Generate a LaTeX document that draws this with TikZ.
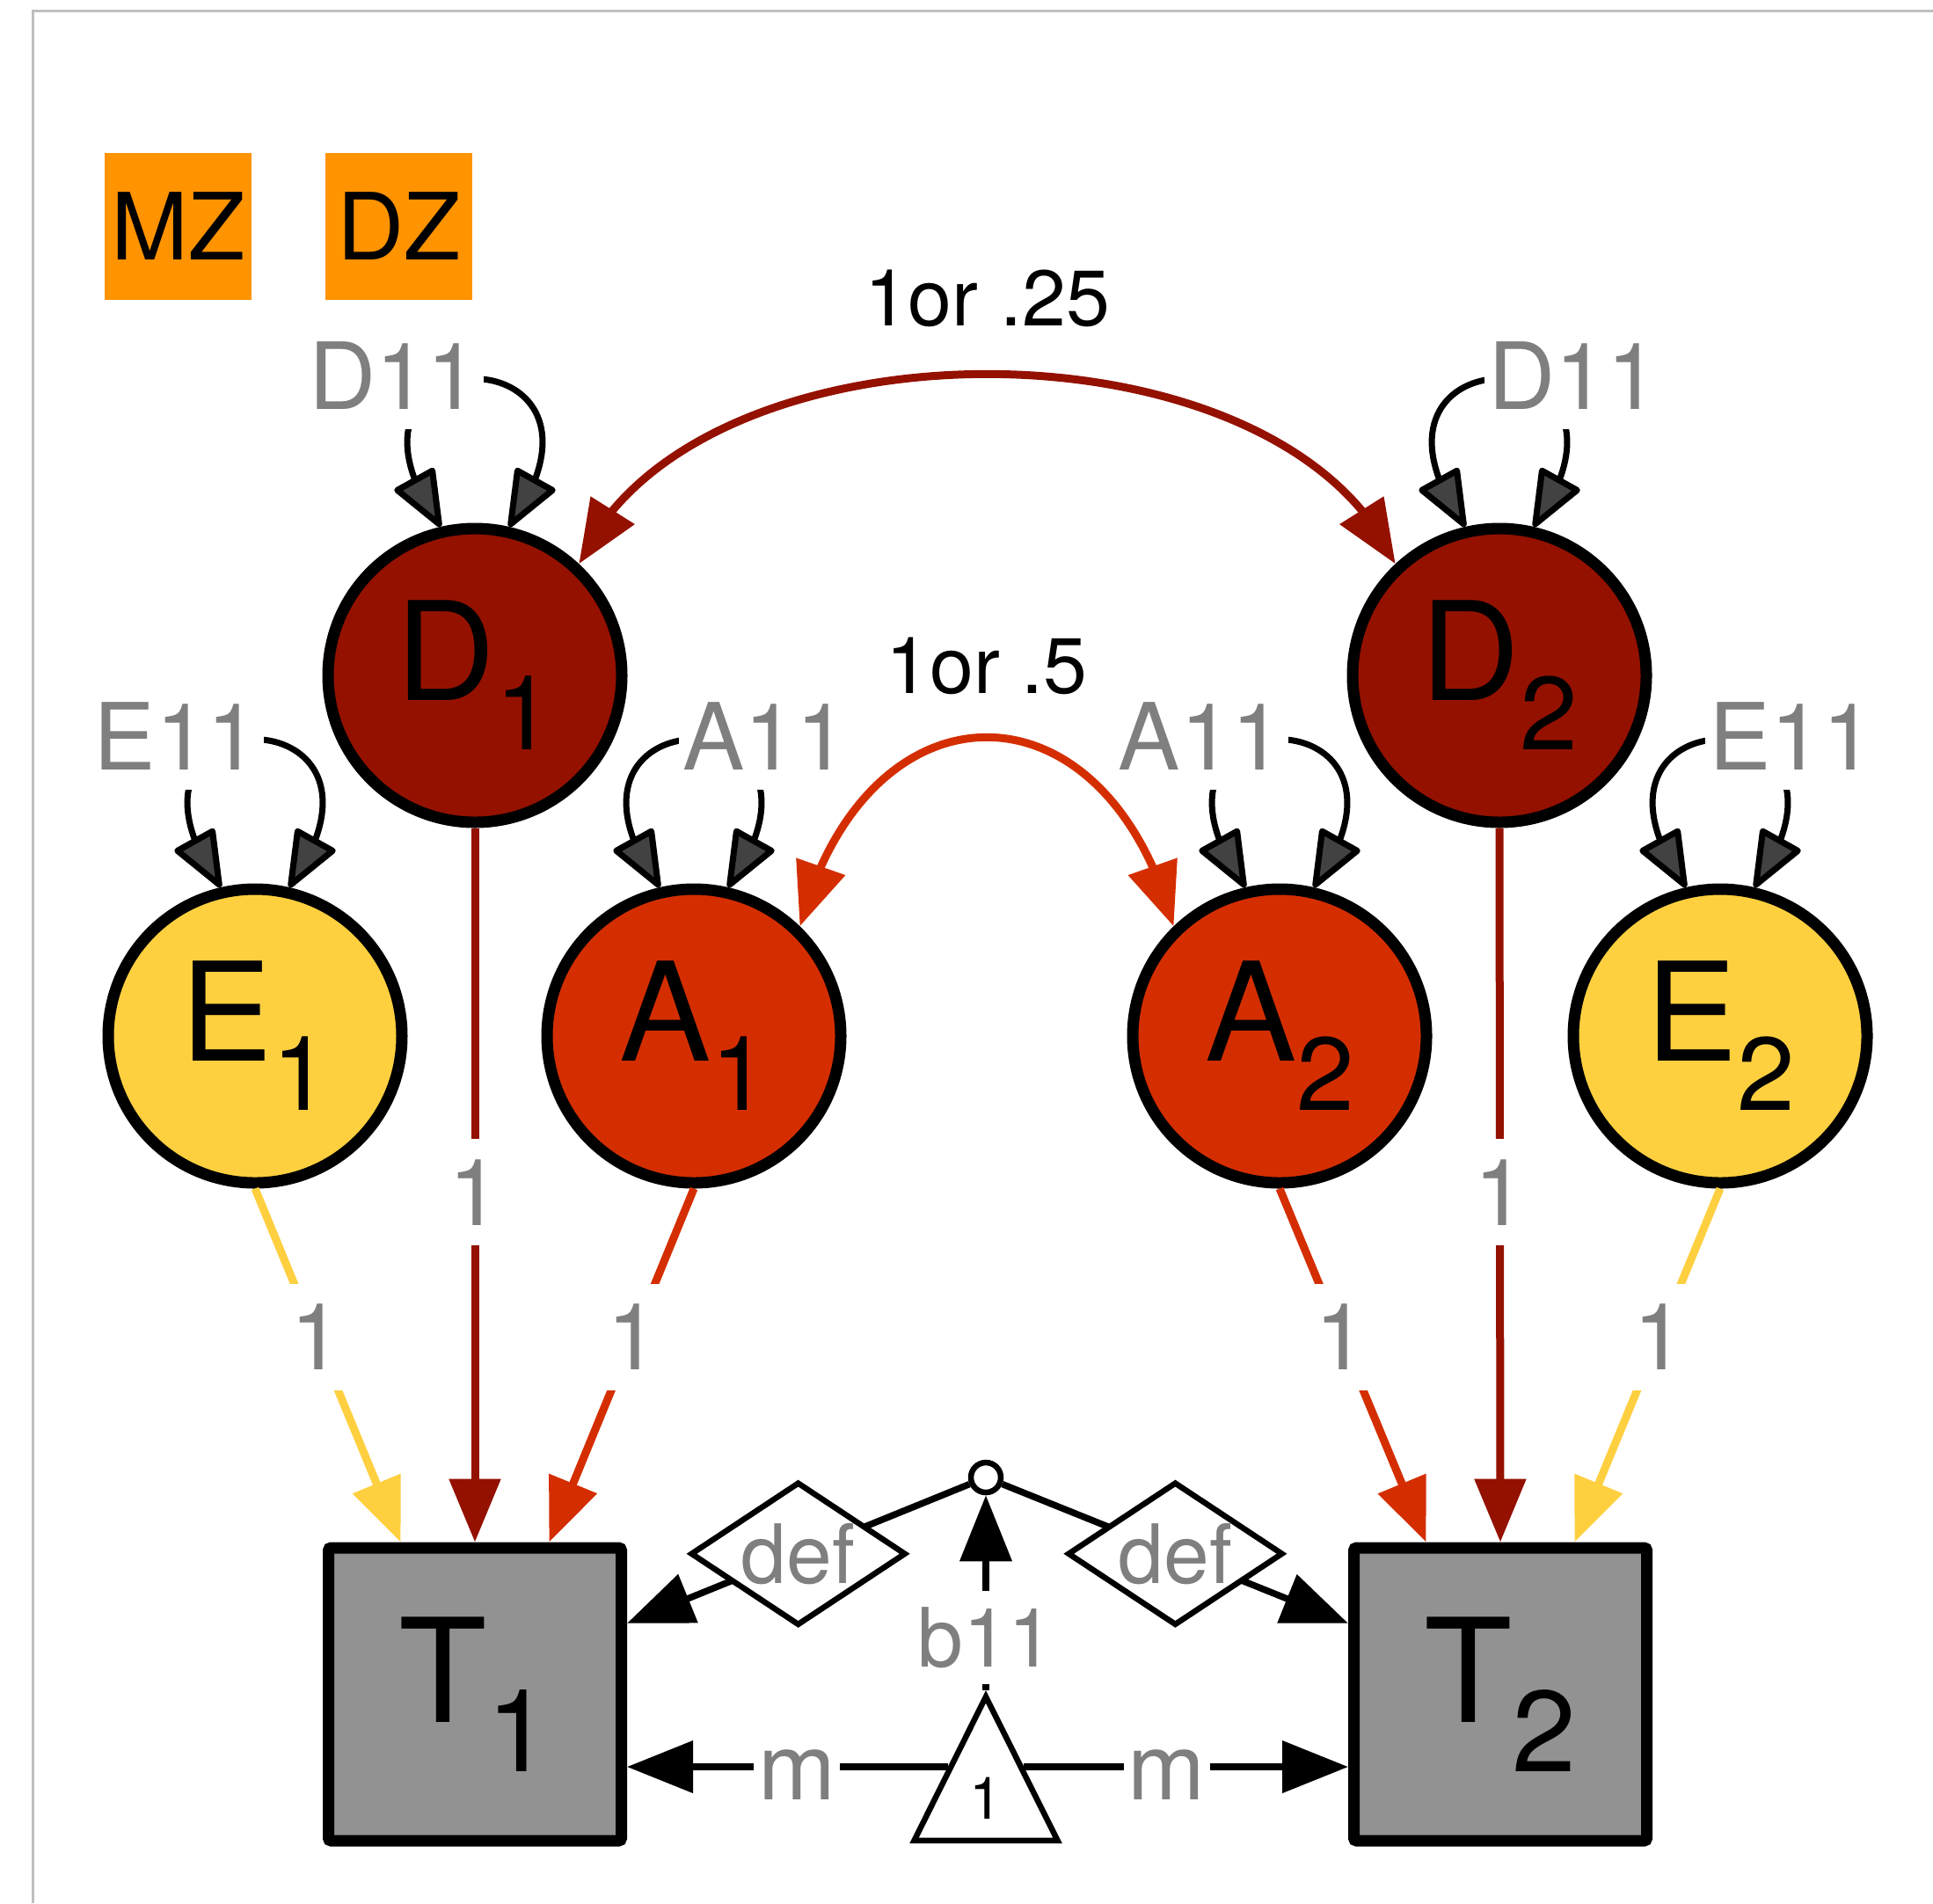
\documentclass[tikz,border=0pt]{standalone}
\usepackage{fontspec}
\setmainfont{TeX Gyre Heros}
\usetikzlibrary{positioning,arrows.meta,bending,shapes.geometric}

\definecolor{dcol}{HTML}{941100}
\definecolor{acol}{HTML}{D42E00}
\definecolor{ecol}{HTML}{FED040}
\definecolor{tcol}{HTML}{929292}
\definecolor{grpcol}{HTML}{FF9300}
\definecolor{labgray}{HTML}{7F7F7F}
\definecolor{tungsten}{HTML}{424242}
\definecolor{framegray}{HTML}{BFBFBF}

\newcommand{\latfont}{\fontsize{44.4}{44.4}\selectfont}
\newcommand{\manfont}{\fontsize{46.7}{46.7}\selectfont}
\newcommand{\labfont}{\fontsize{30}{30}\selectfont}
\newcommand{\deffont}{\fontsize{26.5}{26.5}\selectfont}
\newcommand{\covfont}{\fontsize{25.5}{25.5}\selectfont}
\newcommand{\onefont}{\fontsize{19}{19}\selectfont}
\newcommand{\latlab}[2]{#1\raisebox{-0.56cm}{\fontsize{33.6}{33.6}\selectfont #2}}
\newcommand{\manlab}[2]{#1\raisebox{-0.56cm}{\fontsize{37.3}{37.3}\selectfont #2}}

\tikzset{
  latent/.style={circle,draw,line width=0.13cm,minimum size=3.34cm,inner sep=0pt,font=\latfont},
  manifest/.style={rectangle,draw,fill=tcol,line width=0.13cm,minimum size=3.33cm,inner sep=0pt,rounded corners=0.03cm,font=\manfont},
  grpbox/.style={fill=grpcol,minimum size=1.67cm,inner sep=0pt,font=\labfont},
  parlab/.style={font=\labfont,text=labgray,fill=white,inner xsep=0.05cm,inner ysep=0pt,text height=0.98cm,text depth=0.23cm},
  lableft/.style={parlab,anchor=east,xshift=0.13cm,yshift=0.03cm},
  labright/.style={parlab,anchor=west,xshift=-0.21cm,yshift=0.03cm},
  smlab/.style={font=\deffont,text=labgray,inner xsep=0.05cm,inner ysep=0pt,text height=0.865cm,text depth=0.2cm},
  covlab/.style={font=\covfont,text=black,inner sep=0pt,text height=0.83cm,text depth=0.2cm},
  defbox/.style={diamond,draw,fill=white,line width=0.065cm,aspect=1.5,minimum width=2.45cm,minimum height=1.63cm,
    font=\deffont,text=labgray,inner sep=0pt,text height=0.67cm,text depth=0pt},
  defdot/.style={circle,draw,fill=white,line width=0.065cm,minimum size=0.34cm,inner sep=0pt},
  meanbox/.style={isosceles triangle,isosceles triangle apex angle=53,shape border rotate=90,draw,fill=white,line width=0.065cm,minimum width=1.63cm,minimum height=1.63cm,inner sep=0pt,font=\onefont},
  loading/.style={line width=0.09cm,-{Triangle[length=0.72cm,width=0.57cm]}},
  covarc/.style={line width=0.09cm,{Triangle[length=0.72cm,width=0.57cm]}-{Triangle[length=0.72cm,width=0.57cm]}},
  varloop/.style={line width=0.07cm,{Triangle[length=0.7cm,width=0.54cm,fill=tungsten,round]}-{Triangle[length=0.7cm,width=0.54cm,fill=tungsten,round]}},
  blk/.style={line width=0.075cm,-{Triangle[length=0.75cm,width=0.58cm]}},
  plotframe/.style={draw=framegray,line width=0.03cm}
}

\begin{document}
\begin{tikzpicture}
\useasboundingbox (0,0) rectangle (21.98,-21.64);
\draw[plotframe] (0.37,-21.64) -- (0.37,-0.12) -- (21.98,-0.12);

% groups
\node[grpbox] (MZ) at (2.025,-2.575) {MZ};
\node[grpbox,right=0.83cm of MZ] (DZ) {DZ};

% latent variables
\node[latent,fill=dcol] (D1) at (5.40,-7.68) {\latlab{D}{1}};
\node[latent,fill=dcol] (D2) at (17.05,-7.68) {\latlab{D}{2}};
\node[latent,fill=ecol] (E1) at (2.90,-11.78) {\latlab{E}{1}};
\node[latent,fill=acol] (A1) at (7.89,-11.78) {\latlab{A}{1}};
\node[latent,fill=acol] (A2) at (14.55,-11.78) {\latlab{A}{2}};
\node[latent,fill=ecol] (E2) at (19.56,-11.78) {\latlab{E}{2}};

% observed
\node[manifest] (T1) at (5.40,-19.265) {\manlab{T}{1}};
\node[manifest] (T2) at (17.06,-19.265) {\manlab{T}{2}};

% definition variable and means
\node[defdot] (dot) at (11.21,-16.80) {};
\node[meanbox,anchor=lower side] (mean) at (11.21,-20.96) {1};

% variances
\draw[varloop] (D1.103) to[out=125,in=55,looseness=9] node[lableft,midway]{D11} (D1.77);
\draw[varloop] (D2.103) to[out=125,in=55,looseness=9] node[labright,midway]{D11} (D2.77);
\draw[varloop] (E1.103) to[out=125,in=55,looseness=9] node[lableft,midway]{E11} (E1.77);
\draw[varloop] (A1.103) to[out=125,in=55,looseness=9] node[labright,midway]{A11} (A1.77);
\draw[varloop] (A2.103) to[out=125,in=55,looseness=9] node[lableft,midway]{A11} (A2.77);
\draw[varloop] (E2.103) to[out=125,in=55,looseness=9] node[labright,midway]{E11} (E2.77);

% covariances
\draw[covarc,dcol] (D1.47) to[out=66,in=114,looseness=0.87] node[covlab,above=0.3cm,midway]{1or .25} (D2.133);
\draw[covarc,acol] (A1.46) to[out=75,in=105,looseness=1.79] node[covlab,above=0.25cm,midway]{1or .5} (A2.134);

% loadings
\draw[loading,ecol] (E1.south) -- node[parlab,pos=0.42]{1} (T1.116);
\draw[loading,dcol] (D1.south) -- node[parlab,pos=0.51]{1} (T1.north);
\draw[loading,acol] (A1.south) -- node[parlab,pos=0.42]{1} (T1.64);
\draw[loading,acol] (A2.south) -- node[parlab,pos=0.42]{1} (T2.116);
\draw[loading,dcol] (D2.south) -- node[parlab,pos=0.51]{1} (T2.north);
\draw[loading,ecol] (E2.south) -- node[parlab,pos=0.42]{1} (T2.64);

% definition paths
\draw[blk] (dot) -- node[defbox,midway]{def} (T1.25);
\draw[blk] (dot) -- node[defbox,midway]{def} (T2.155);
\draw[blk] (mean.apex) -- node[smlab,fill=white,pos=0.27]{b11} (dot.south);

% means
\draw[blk] (mean.left side) -- node[parlab,pos=0.47]{m} (T1.east |- mean.left side);
\draw[blk] (mean.right side) -- node[parlab,pos=0.44]{m} (T2.west |- mean.right side);

\end{tikzpicture}
\end{document}
